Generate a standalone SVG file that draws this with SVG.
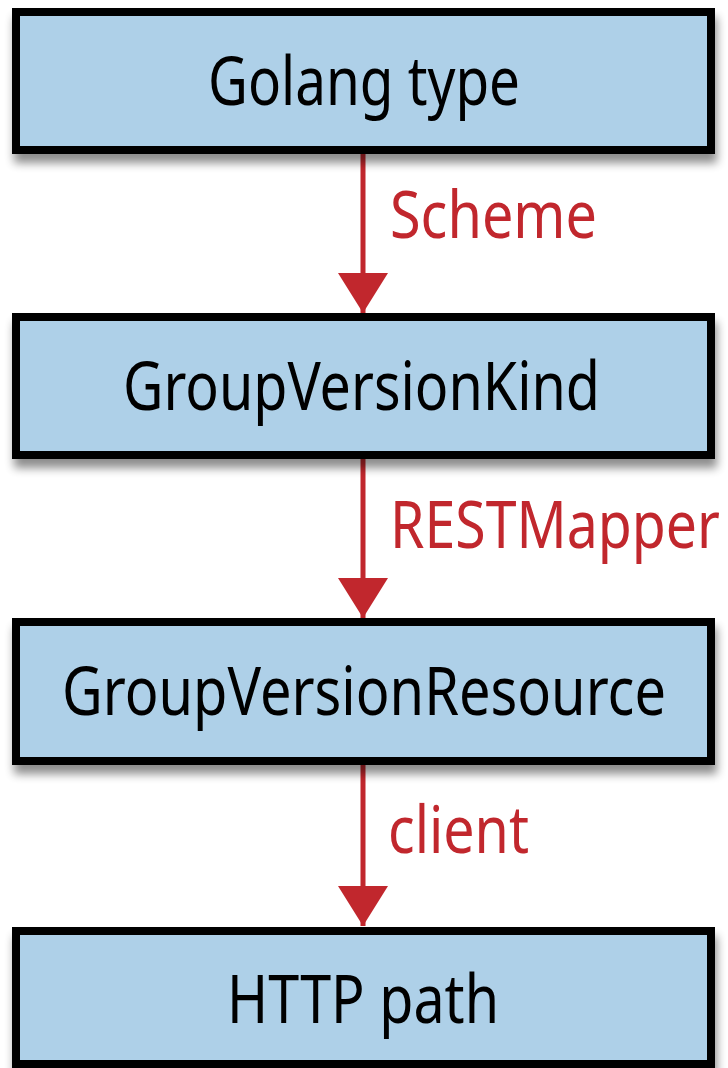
<svg xmlns="http://www.w3.org/2000/svg" width="728" height="1068" viewBox="0 0 728 1068">
<defs>
<filter id="shadow" x="-10%" y="-20%" width="120%" height="150%">
<feGaussianBlur in="SourceAlpha" stdDeviation="5"/>
<feOffset dx="2" dy="9" result="b"/>
<feComponentTransfer><feFuncA type="linear" slope="0.45"/></feComponentTransfer>
<feMerge><feMergeNode/><feMergeNode in="SourceGraphic"/></feMerge>
</filter>
<marker id="arrow" markerUnits="userSpaceOnUse" markerWidth="40" markerHeight="50" refX="40" refY="25" orient="auto" viewBox="0 0 40 50">
<path d="M0,0 L40,25 L0,50 Z" fill="#c1272d"/>
</marker>
</defs>
<style>
.box{fill:#aed0e8;stroke:#000;stroke-width:8}
.t{font-family:"Noto Sans","Open Sans","DejaVu Sans",sans-serif;font-size:67px;fill:#000}
.lbl{font-family:"Noto Sans","Open Sans","DejaVu Sans",sans-serif;font-size:66px;fill:#c1272d}
.conn{stroke:#c1272d;stroke-width:5;fill:none}
</style>
<rect width="728" height="1068" fill="#fff"/>
<g id="connectors">
<line class="conn" x1="363" y1="154" x2="363" y2="313" marker-end="url(#arrow)"/>
<line class="conn" x1="363" y1="459" x2="363" y2="618" marker-end="url(#arrow)"/>
<line class="conn" x1="363" y1="765" x2="363" y2="926" marker-end="url(#arrow)"/>
<g transform="scale(0.8,1)">
<text class="lbl" x="487.5" y="238" textLength="258.75" lengthAdjust="spacingAndGlyphs">Scheme</text>
<text class="lbl" x="487.5" y="548" textLength="412.5" lengthAdjust="spacingAndGlyphs">RESTMapper</text>
<text class="lbl" x="485" y="853" textLength="176.25" lengthAdjust="spacingAndGlyphs">client</text>
</g>
</g>
<g id="node-golang">
<rect class="box" x="16" y="12" width="695" height="138" filter="url(#shadow)"/>
<text class="t" transform="scale(0.8,1)" x="260" y="105" textLength="390" lengthAdjust="spacingAndGlyphs">Golang type</text>
</g>
<g id="node-gvk">
<rect class="box" x="16" y="317" width="695" height="138" filter="url(#shadow)"/>
<text class="t" transform="scale(0.8,1)" x="153.75" y="410" textLength="596.25" lengthAdjust="spacingAndGlyphs">GroupVersionKind</text>
</g>
<g id="node-gvr">
<rect class="box" x="16" y="622" width="695" height="139" filter="url(#shadow)"/>
<text class="t" transform="scale(0.8,1)" x="77.5" y="715" textLength="755" lengthAdjust="spacingAndGlyphs">GroupVersionResource</text>
</g>
<g id="node-http">
<rect class="box" x="16" y="931" width="695" height="133" filter="url(#shadow)"/>
<text class="t" transform="scale(0.8,1)" x="283.75" y="1023" textLength="340" lengthAdjust="spacingAndGlyphs">HTTP path</text>
</g>
</svg>
